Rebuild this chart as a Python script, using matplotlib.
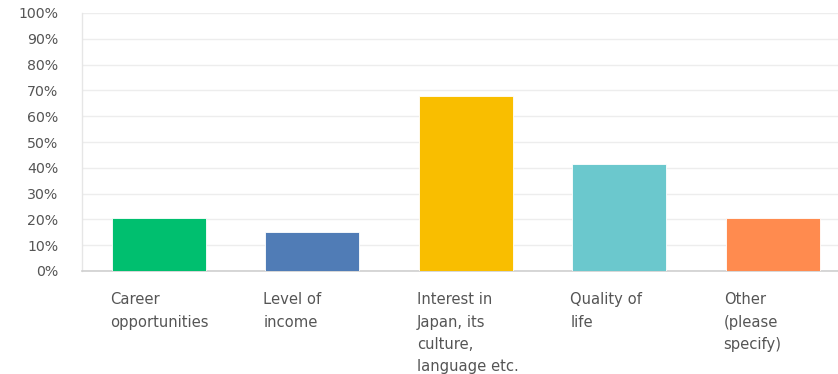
import matplotlib
matplotlib.use("Agg")
import matplotlib.pyplot as plt
import matplotlib.transforms as mtransforms

categories = ["Career\nopportunities", "Level of\nincome", "Interest in\nJapan, its\nculture,\nlanguage etc.",
              "Quality of\nlife", "Other\n(please\nspecify)"]
values = [20.4, 15.2, 67.9, 41.6, 20.4]
colors = ["#00BF6F", "#507CB6", "#F9BE00", "#6BC8CD", "#FF8B4F"]
yticks = list(range(0, 101, 10))
ytick_labels = [f"{t}%" for t in yticks]

plt.rcParams['font.family'] = ['DejaVu Sans']

W, H = 838, 374
fig = plt.figure(figsize=(W/100, H/100), dpi=100)
left, right, top, bottom = 82, 838, 13, 271
ax = fig.add_axes([left/W, 1-bottom/H, (right-left)/W, (bottom-top)/H])

x = list(range(len(categories)))
ax.bar(x, values, width=0.61, color=colors, edgecolor="#ffffff", linewidth=0.6, zorder=3)
ax.set_xlim(-0.5, 4.425)
ax.set_ylim(0, 100)
ax.set_yticks(yticks)
ax.set_yticklabels(ytick_labels, fontsize=10.2, color="#555555")
ax.tick_params(axis='y', length=0, pad=17)
ax.set_xticks([])
ax.grid(axis='y', color="#EDEDED", linewidth=1.0, zorder=0)
for s in ["top", "right"]:
    ax.spines[s].set_visible(False)
ax.spines["left"].set_color("#E6E6E6")
ax.spines["left"].set_linewidth(1.0)
ax.spines["bottom"].set_color("#CFCFCF")
ax.spines["bottom"].set_linewidth(1.2)

trans = mtransforms.blended_transform_factory(ax.transData, ax.transAxes)
for xi, cat in zip(x, categories):
    ax.text(xi - 0.32, -0.082, cat, transform=trans, ha='left', va='top',
            fontsize=10.6, color="#555555", linespacing=1.62)

fig.savefig("out.png", dpi=100, facecolor="white")
